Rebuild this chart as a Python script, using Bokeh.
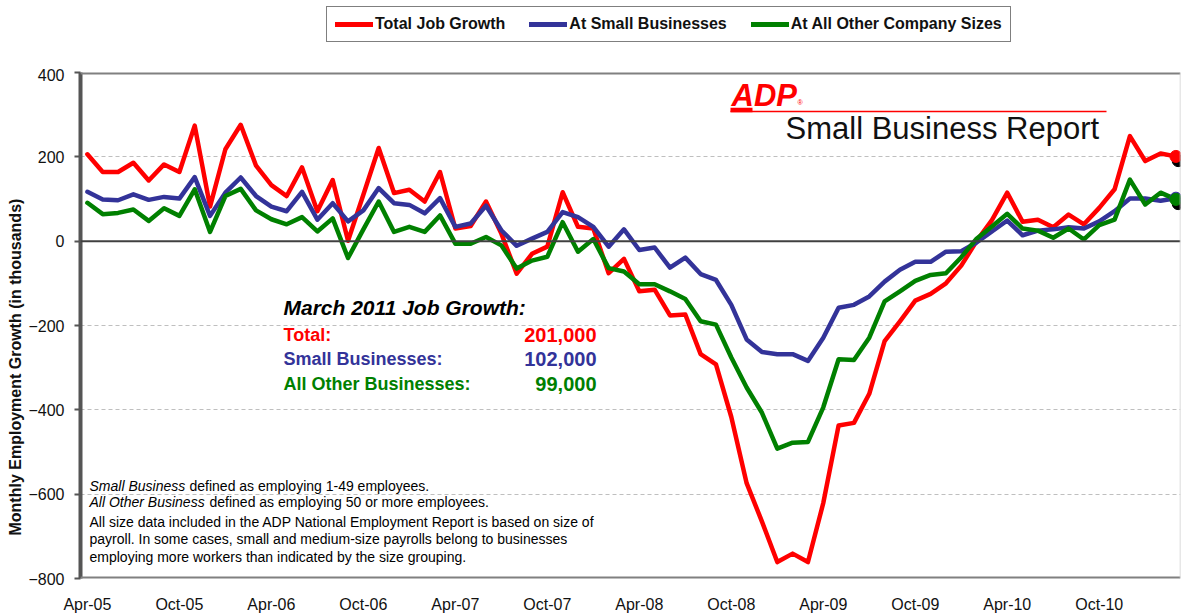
from bokeh.plotting import figure
from bokeh.layouts import column
from bokeh.models import (Range1d, FixedTicker, Span, Label, Legend, LegendItem,
                          BoxAnnotation, Title)
from bokeh.embed import file_html
from bokeh.resources import INLINE

# ---------------- data (thousands of jobs, Apr-2005 .. Mar-2011) ----------------
total = [206, 164, 164, 186, 144, 182, 164, 274, 82, 218, 276, 179,
         133, 107, 175, 71, 145, 1, 110, 221, 114, 122, 94, 164,
         30, 36, 94, 18, -77, -30, -13, 116, 34, 30, -76, -42,
         -119, -115, -176, -174, -268, -292, -417, -574, -665, -761, -741, -761,
         -621, -437, -431, -362, -237, -190, -141, -125, -100, -58, 0, 50,
         115, 46, 51, 33, 63, 40, 79, 123, 249, 190, 208, 201]
small = [117, 99, 97, 111, 98, 105, 101, 152, 60, 115, 151, 107,
         82, 71, 117, 51, 90, 47, 73, 126, 90, 86, 66, 102,
         34, 42, 84, 26, -11, 6, 22, 69, 57, 34, -13, 28,
         -21, -15, -63, -39, -78, -92, -151, -233, -263, -268, -268, -284,
         -229, -158, -151, -131, -96, -68, -49, -49, -25, -24, -3, 23,
         49, 14, 25, 28, 33, 30, 47, 71, 101, 101, 96, 102]
other = [91, 64, 67, 75, 48, 78, 60, 123, 22, 107, 124, 73,
         52, 40, 57, 23, 54, -40, 28, 94, 22, 34, 22, 61,
         -6, -6, 10, -10, -65, -46, -37, 45, -25, 5, -64, -72,
         -102, -102, -119, -137, -190, -198, -276, -347, -407, -492, -478, -476,
         -394, -280, -282, -229, -143, -119, -94, -80, -76, -38, 6, 35,
         65, 30, 25, 8, 30, 4, 38, 51, 146, 87, 115, 99]
tick_labels = ["Apr-05", "Oct-05", "Apr-06", "Oct-06", "Apr-07", "Oct-07",
               "Apr-08", "Oct-08", "Apr-09", "Oct-09", "Apr-10", "Oct-10"]
y_ticks = [-800, -600, -400, -200, 0, 200, 400]
series_names = ["Total Job Growth", "At Small Businesses", "At All Other Company Sizes"]
summary_labels = ["Total:", "Small Businesses:", "All Other Businesses:"]
summary_values = ["201,000", "102,000", "99,000"]

RED, BLUE, GREEN = "#FF0000", "#333399", "#008000"
COLORS = [RED, BLUE, GREEN]
FONT = "Liberation Sans"

x = list(range(len(total)))
series = [total, small, other]

# ---------------- page geometry ----------------
W, H = 1182, 615
TOP_H = 68                     # legend strip height
FL, FR, FT, FB = 80, 1180, 72, 580   # frame edges in page pixels
X0, X1 = -0.45, 71.3
Y0, Y1 = -800, 400


def dx(px):
    return X0 + (px - FL) * (X1 - X0) / (FR - FL)


def dy(py):
    return Y1 - (py - FT) * (Y1 - Y0) / (FB - FT)


# ---------------- legend strip ----------------
# the series are drawn here far outside the visible range only to feed the legend
top = figure(width=W, height=TOP_H, x_range=Range1d(0, 1), y_range=Range1d(5000, 5001),
             output_backend="svg", toolbar_location=None,
             x_axis_location=None, y_axis_location=None,
             min_border_left=0, min_border_right=0, min_border_top=0, min_border_bottom=0)
top.outline_line_color = None
top.xgrid.grid_line_color = None
top.ygrid.grid_line_color = None
feeds = [top.line(x, s, line_color=c, line_width=5, line_cap="round")
         for s, c in zip(series, COLORS)]
legend = Legend(items=[LegendItem(label=n, renderers=[r]) for n, r in zip(series_names, feeds)],
                orientation="horizontal", location=(326 - FL, TOP_H - 42),
                label_text_font=FONT, label_text_font_size="16px",
                label_text_font_style="bold", label_text_color="#111111",
                glyph_width=38, glyph_height=16, label_height=16, label_standoff=2,
                spacing=24, padding=8, margin=0,
                border_line_color="black", border_line_width=1.5,
                background_fill_color="white", background_fill_alpha=1)
top.add_layout(legend)

# ---------------- main chart ----------------
p = figure(width=W, height=H - TOP_H, x_range=Range1d(X0, X1), y_range=Range1d(Y0, Y1),
           output_backend="svg", toolbar_location=None,
           min_border_left=FL, min_border_right=W - FR,
           min_border_top=FT - TOP_H, min_border_bottom=H - FB)
p.outline_line_color = None
p.background_fill_color = "white"
p.border_fill_color = "white"

# axes
p.yaxis.ticker = FixedTicker(ticks=y_ticks)
p.yaxis.axis_line_width = 4
p.yaxis.axis_line_color = "#555555"
p.yaxis.major_tick_line_color = "#555555"
p.yaxis.major_tick_line_width = 2
p.yaxis.major_tick_out = 6
p.yaxis.major_tick_in = 0
p.yaxis.minor_tick_line_color = None
p.yaxis.major_label_standoff = 10
p.yaxis.major_label_text_font = FONT
p.yaxis.major_label_text_font_size = "16px"
p.yaxis.major_label_text_color = "#111111"

xt = [i * 6 for i in range(len(tick_labels))]
p.xaxis.ticker = FixedTicker(ticks=xt)
p.xaxis.major_label_overrides = {t: lab for t, lab in zip(xt, tick_labels)}
p.xaxis.axis_line_color = None
p.xaxis.major_tick_line_color = None
p.xaxis.major_tick_out = 0
p.xaxis.major_tick_in = 0
p.xaxis.minor_tick_line_color = None
p.xaxis.major_label_standoff = 17
p.xaxis.major_label_text_font = FONT
p.xaxis.major_label_text_font_size = "16px"
p.xaxis.major_label_text_color = "#111111"

p.add_layout(Title(text="Monthly Employment Growth (in thousands)", align="left",
                   offset=43, text_font=FONT, text_font_size="16px",
                   text_font_style="bold", text_color="#111111", standoff=4), "left")

# grid
p.xgrid.grid_line_color = None
p.ygrid.ticker = FixedTicker(ticks=[-600, -400, -200, 200])
p.ygrid.grid_line_color = "#BFBFBF"
p.ygrid.grid_line_dash = "4 3"
p.ygrid.grid_line_width = 1

# frame borders
p.add_layout(Span(location=0, dimension="width", line_color="#404040", line_width=2))
p.add_layout(Span(location=Y1, dimension="width", line_color="#808080", line_width=4))
p.add_layout(Span(location=Y0, dimension="width", line_color="#808080", line_width=4))
p.add_layout(Span(location=X1, dimension="height", line_color="#D0D0D0", line_width=1.5))

# logo
p.add_layout(BoxAnnotation(left=dx(730), right=dx(1106), top=dy(110.5), bottom=dy(112),
                           fill_color=RED, fill_alpha=1, line_color=None))
p.add_layout(BoxAnnotation(left=dx(730), right=dx(752), top=dy(107.5), bottom=dy(112),
                           fill_color=RED, fill_alpha=1, line_color=None))
p.add_layout(Label(x=dx(731), y=dy(95), text="ADP", text_font=FONT, text_font_size="31px",
                   text_font_style="bold italic", text_color=RED, text_baseline="middle"))
p.add_layout(Label(x=dx(797), y=dy(102), text="®", text_font=FONT, text_font_size="7px",
                   text_color=RED, text_baseline="middle"))
p.add_layout(Label(x=dx(785), y=dy(128), text="Small Business Report", text_font=FONT,
                   text_font_size="31px", text_color="#111111", text_baseline="middle"))

# series
r_tot = p.line(x, total, line_color=RED, line_width=4.5, line_join="round", line_cap="round")
r_sml = p.line(x, small, line_color=BLUE, line_width=4.5, line_join="round", line_cap="round")
r_oth = p.line(x, other, line_color=GREEN, line_width=4.5, line_join="round", line_cap="round")

# end markers with dark shadow
last = x[-1]
p.scatter([last + 0.15] * 3, [total[-1] - 10, small[-1] - 10, other[-1] - 10],
          size=12, color="black")
p.scatter([last], [small[-1]], size=12, color=BLUE)
p.scatter([last], [other[-1]], size=12, color=GREEN)
p.scatter([last], [total[-1]], size=12, color=RED)

# summary block
p.add_layout(Label(x=dx(283), y=dy(308), text="March 2011 Job Growth:", text_font=FONT,
                   text_font_size="21px", text_font_style="bold italic",
                   text_color="#000000", text_baseline="middle"))
for lab, val, col, py in zip(summary_labels, summary_values, COLORS, [336, 360, 385]):
    p.add_layout(Label(x=dx(283), y=dy(py), text=lab, text_font=FONT, text_font_size="18px",
                       text_font_style="bold", text_color=col, text_baseline="middle"))
    p.add_layout(Label(x=dx(596), y=dy(py), text=val, text_font=FONT, text_font_size="20px",
                       text_font_style="bold", text_color=col, text_baseline="middle",
                       text_align="right"))

# footnote
notes = [
    (89, 487, "Small Business", "italic"),
    (189, 487, "defined as employing 1-49 employees.", "normal"),
    (89, 503, "All Other Business", "italic"),
    (209, 503, "defined as employing 50 or more employees.", "normal"),
    (89, 523, "All size data included in the ADP National Employment Report is based on size of", "normal"),
    (89, 540, "payroll.  In some cases, small and medium-size payrolls belong to businesses", "normal"),
    (89, 558, "employing more workers than indicated by the size grouping.", "normal"),
]
for px, py, txt, style in notes:
    p.add_layout(Label(x=dx(px), y=dy(py), text=txt, text_font=FONT, text_font_size="14px",
                       text_font_style=style, text_color="#000000", text_baseline="middle"))

layout = column(top, p, spacing=0)
open("out.html", "w").write(file_html(layout, INLINE))
